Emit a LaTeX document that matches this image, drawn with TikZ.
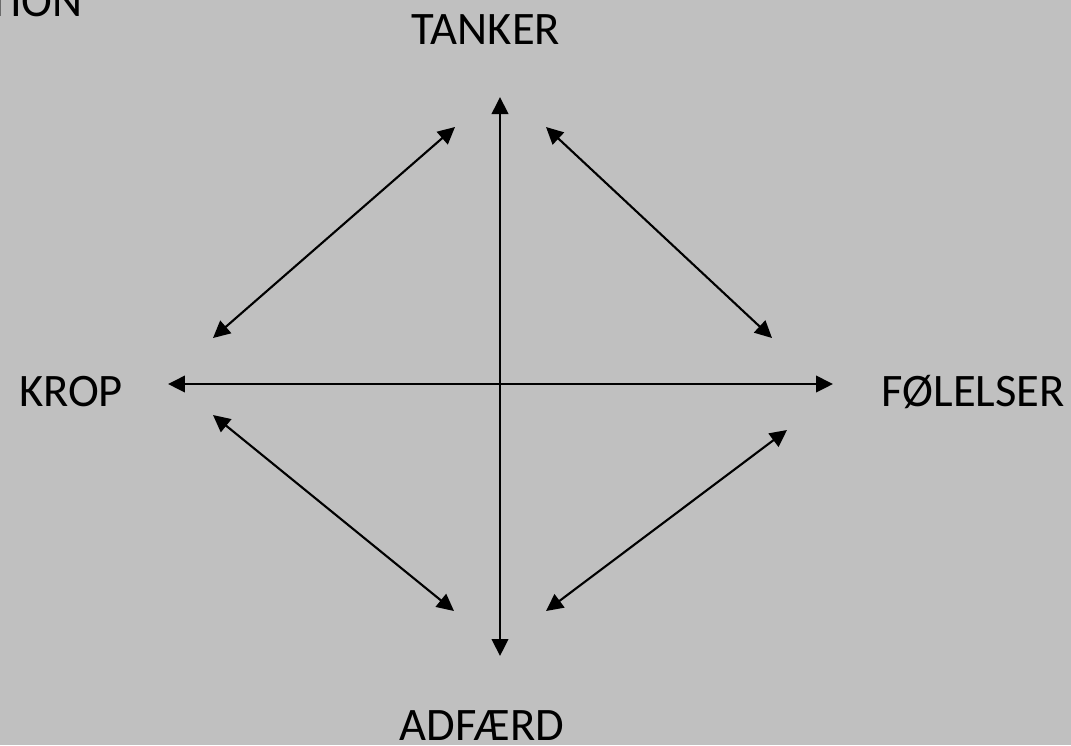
\documentclass[tikz,border=0pt]{standalone}
\usepackage{fontspec}
\setmainfont{Carlito}
\usetikzlibrary{arrows.meta,positioning}
\definecolor{slate}{RGB}{192,192,192}
\definecolor{ink}{RGB}{0,0,0}
\tikzset{
  >={Triangle[length=3.4mm,width=3.3mm]},
  word/.style={inner sep=0pt,text depth=0pt,anchor=base,text=ink,font=\fontsize{26.5}{32}\selectfont},
  link/.style={<->,draw=ink,line width=1.2pt},
}

\begin{document}
\begin{tikzpicture}[x=0.02cm,y=-0.02cm]
    \fill[slate] (0,0) rectangle (1071,745);
    \useasboundingbox (0,0) rectangle (1071,745);
    % labels
    \node[word,anchor=base east] (sit) at (83,16) {TION};
    \node[word] (tanker) at (486,44) {TANKER};
    \node[word] (krop) at (71,406) {KROP};
    \node[word] (foel) at (973,406) {FØLELSER};
    \node[word] (adf) at (482,740) {ADFÆRD};
    % arrow ends
    \coordinate (top) at (500,97);
    \coordinate (bot) at (500,656);
    \coordinate (lft) at (168,384);
    \coordinate (rgt) at (833,384);
    \coordinate (tl1) at (455,127);
    \coordinate (tl2) at (213,338);
    \coordinate (tr1) at (546,127);
    \coordinate (tr2) at (772,338);
    \coordinate (bl1) at (213,415);
    \coordinate (bl2) at (454,611);
    \coordinate (br1) at (787,430);
    \coordinate (br2) at (546,611);
    \draw[link] (top) -- (bot);
    \draw[link] (lft) -- (rgt);
    \draw[link] (tl1) -- (tl2);
    \draw[link] (tr1) -- (tr2);
    \draw[link] (bl1) -- (bl2);
    \draw[link] (br1) -- (br2);
  \end{tikzpicture}
\end{document}
